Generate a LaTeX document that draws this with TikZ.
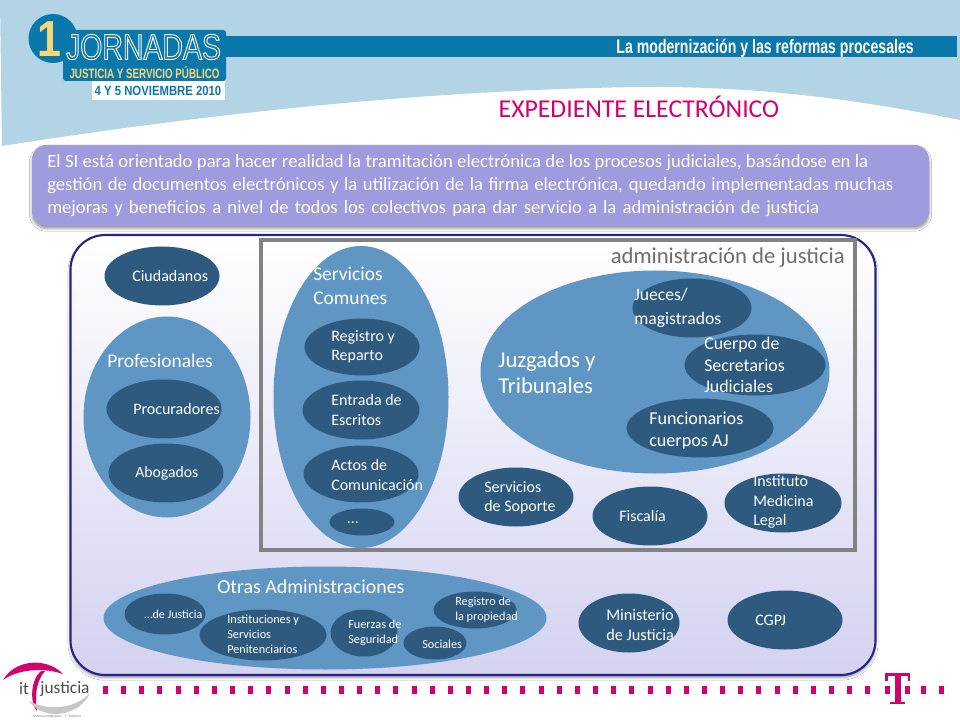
\documentclass[tikz,border=0pt]{standalone}
\usepackage{fontspec}
\setmainfont{Carlito}
\newfontfamily\headfont{Liberation Sans}[FakeStretch=0.79]
\newfontfamily\mottofont{Liberation Sans}[FakeStretch=0.72]
\newfontfamily\datefont{Liberation Sans}[FakeStretch=0.85]
\usetikzlibrary{shapes.geometric,shadows,shadows.blur}
\definecolor{skyband}{HTML}{B3D4E5}
\definecolor{barblue}{HTML}{0B78AC}
\definecolor{dark}{HTML}{2E5A80}
\definecolor{mid}{HTML}{5F96C4}
\definecolor{magent}{HTML}{D6006D}
\definecolor{lila}{HTML}{9E9BDE}
\definecolor{navy}{HTML}{25258C}
\definecolor{greyb}{HTML}{828282}
\definecolor{goldy}{HTML}{F5D77A}
\newcommand{\lblfont}[1]{\pgfmathsetmacro\lblbs{1.22*#1}\fontsize{#1}{\lblbs}\selectfont}
\tikzset{
  x=0.75pt,y=-0.75pt,
  dk/.style={ellipse,fill=dark,draw=none,inner sep=0pt},
  md/.style={ellipse,fill=mid,draw=none,inner sep=0pt},
  lbl/.style={text=white,align=left,anchor=west,inner sep=0pt,font=\lblfont{#1}},
  lbl/.default=11
}
\newcommand{\blob}[6][dk]{\node[#1,minimum width=#4*0.75pt,minimum height=#5*0.75pt] (#6) at (#2,#3) {};}
\begin{document}
\begin{tikzpicture}
\useasboundingbox (0,0) rectangle (960,720);
\fill[white] (0,0) rectangle (960,720);
\fill[skyband] (0,0) -- (960,0) -- (960,120) .. controls (860,100) and (760,86) .. (640,87) .. controls (420,90) and (200,115) .. (2,146) -- cycle;
% header
\fill[barblue] (220,36) rectangle (957,57);
\fill[barblue] (53,38.5) circle (24.5*0.75pt);
\fill[barblue,rounded corners=2pt] (63,30) rectangle (226,81);
\fill[white] (92,81) rectangle (225,100);
\node[text=white,anchor=east,inner sep=0pt,font=\mottofont\bfseries\fontsize{14.7}{16}\selectfont] (motto) at (914,48) {La modernización y las reformas procesales};
\node[text=goldy,inner sep=0pt,font=\datefont\bfseries\fontsize{38}{38}\selectfont] (one) at (49,39) {1};
\node[inner sep=0pt,font=\headfont\fontsize{27}{27}\selectfont,text=barblue] (jor) at (143.5,47) {\special{pdf:code 1 Tr 0.7 w 1 1 1 RG}JORNADAS\special{pdf:code 0 Tr}};
\node[text=goldy,inner sep=0pt,font=\mottofont\bfseries\fontsize{10.2}{12}\selectfont] (jsp) at (144.5,73) {JUSTICIA Y SERVICIO PÚBLICO};
\node[text=barblue,inner sep=0pt,font=\datefont\bfseries\fontsize{10}{12}\selectfont] (date) at (158,91) {4 Y 5 NOVIEMBRE 2010};
% title
\node[text=magent,inner sep=0pt,font=\fontsize{19.3}{22}\selectfont] (title) at (639,107) {EXPEDIENTE ELECTRÓNICO};
% intro box
\node[draw=none,fill=lila,rounded corners=11pt,minimum width=897*0.75pt,minimum height=81*0.75pt,blur shadow={shadow blur steps=6,shadow xshift=0pt,shadow yshift=-2pt}] (intro) at (480.5,185.5) {};
\node[text=white,anchor=west,align=left,inner sep=0pt,font=\fontsize{14}{17.2}\selectfont] (introt) at (47,186) {\makebox[615.75pt][s]{El SI está orientado para hacer realidad la tramitación electrónica de los procesos judiciales, basándose en la}\\\makebox[634.5pt][s]{gestión de documentos electrónicos y la utilización de la firma electrónica, quedando implementadas muchas}\\\makebox[579pt][s]{mejoras y beneficios a nivel de todos los colectivos para dar servicio a la administración de justicia}};
% main panel
\node[draw=navy,line width=1.6pt,top color=white,bottom color=lila!45,rounded corners=26pt,minimum width=805*0.75pt,minimum height=440*0.75pt,blur shadow={shadow blur steps=5,shadow xshift=0pt,shadow yshift=-2pt}] (panel) at (473,455) {};
% admin box
\node[draw=greyb,line width=2.6pt,minimum width=594*0.75pt,minimum height=310*0.75pt,inner sep=0pt] (admin) at (558,395) {};
\node[text=greyb!85!black,anchor=east,inner sep=0pt,font=\fontsize{17}{20}\selectfont] (admint) at (845,258) {administración de justicia};
% Ciudadanos
\blob{162}{276}{115}{59}{ciud}
\node[lbl=12] (ciudt) at (132,276) {Ciudadanos};
% Profesionales
\blob[md]{167}{417}{167}{201}{prof}
\node[lbl=14.6] (proft) at (107,361) {Profesionales};
\blob{164}{409}{115}{59}{proc}
\node[lbl=12] (proct) at (133,409) {Procuradores};
\blob{166}{473}{115}{59}{abog}
\node[lbl=11.8] (abogt) at (135,473) {Abogados};
% Servicios comunes
\blob[md]{361}{397}{175}{302}{serv}
\node[lbl=14.6] (servt) at (313,286) {Servicios\\Comunes};
\blob{362}{347}{115}{57}{reg}
\node[lbl=12] (regt) at (331,347) {Registro y\\Reparto};
\blob{361}{410}{117}{59}{ent}
\node[lbl=12] (entt) at (331,410) {Entrada de\\Escritos};
\blob{361}{474}{115}{57}{act}
\node[lbl=12] (actt) at (331,475) {Actos de\\Comunicación};
\blob{362}{522}{65}{27}{dots}
\node[lbl=12] (dotst) at (347,523) {…};
% Juzgados
\blob[md]{655}{372}{349}{203}{juz}
\node[lbl=17] (juzt) at (498,373) {Juzgados y\\[-1pt]Tribunales};
\blob{692}{308}{119}{59}{juec}
\node[lbl=13.2] (juect) at (634,308) {Jueces/\\[2pt]magistrados};
\blob{755}{365}{141}{61}{secr}
\node[lbl=13.4] (secrt) at (704,365) {Cuerpo de\\Secretarios\\Judiciales};
\blob{700}{428}{147}{59}{func}
\node[lbl=13.6] (funct) at (649,431) {Funcionarios\\cuerpos AJ};
% bottom of admin
\blob{516}{497}{115}{59}{sop}
\node[lbl=12] (sopt) at (484,498) {Servicios\\de Soporte};
\blob{650}{516}{115}{59}{fisc}
\node[lbl=12] (fisct) at (619,516) {Fiscalía};
\blob{783}{503}{117}{59}{imed}
\node[lbl=12] (imedt) at (753,502) {Instituto\\Medicina\\Legal};
% Otras
\blob[md]{325}{618}{443}{103}{otras}
\node[lbl=14.9] (otrast) at (217,587) {Otras Administraciones};
\blob{165}{614}{81}{41}{dej}
\node[lbl=9] (dejt) at (144,614) {…de Justicia};
\blob{263}{635}{127}{51}{inst}
\node[lbl=9.2] (instt) at (227,634) {Instituciones y\\Servicios\\Penitenciarios};
\blob{364}{633}{67}{47}{fuer}
\node[lbl=9.2] (fuert) at (348,633) {Fuerzas de\\Seguridad};
\blob{475}{610}{83}{37}{rprop}
\node[lbl=9.2] (rpropt) at (455,610) {Registro de\\la propiedad};
\blob{435}{643}{63}{33}{soc}
\node[lbl=9.2] (soct) at (422,644) {Sociales};
\blob{629}{623}{101}{59}{min}
\node[lbl=12.2] (mint) at (606,625) {Ministerio\\de Justicia};
\blob{785}{620}{115}{59}{cgpj}
\node[lbl=12] (cgpjt) at (755,620) {CGPJ};
% footer dots
\foreach \i in {0,...,42}{
  \fill[magent] ({103+\i*18.15},686) rectangle ({108+\i*18.15},694);
}
\fill[white] (880,670) rectangle (912,716);
\fill[magent] (885,673) rectangle (910,676);
\fill[magent] (885,673) rectangle (887.5,681);
\fill[magent] (907.5,673) rectangle (910,681);
\fill[magent] (894.5,673) rectangle (900.5,703);
\fill[magent] (890,702) rectangle (905,704);
\fill[magent] (885,686) rectangle (890,694);
\fill[magent] (905,686) rectangle (910,694);
\fill[magent] (921,686) rectangle (926,694);
\fill[magent] (939,686) rectangle (944,694);
% it justicia logo
\fill[magent] (3,680) .. controls (16,658) and (48,658) .. (63,674) .. controls (46,668) and (20,668) .. (3,680) -- cycle;
\fill[magent] (41,671) .. controls (30,680) and (30,704) .. (37,711) .. controls (35,700) and (35,682) .. (45,671) -- cycle;
\fill[gray!45] (29,701) .. controls (44,722) and (80,716) .. (90,693) .. controls (76,708) and (50,712) .. (29,701) -- cycle;
\node[text=black!70,inner sep=0pt,font=\fontsize{13}{14}\selectfont] (itl) at (24,689) {it};
\node[text=black!70,inner sep=0pt,font=\fontsize{13}{14}\selectfont] (jl) at (65,689) {justicia};
\node[text=gray,inner sep=0pt,font=\fontsize{2.8}{3}\selectfont] (sil) at (57,717) {Sistema Integrador · T · Systems};
\end{tikzpicture}
\end{document}
